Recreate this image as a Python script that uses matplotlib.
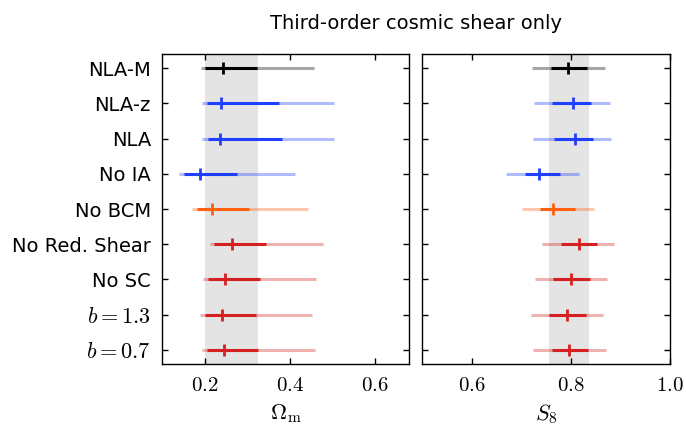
import numpy as np
import matplotlib.pyplot as plt

plt.rcParams['mathtext.fontset'] = 'cm'
plt.rcParams['font.family'] = ['DejaVu Sans']

labels = ['NLA-M', 'NLA-z', 'NLA', 'No IA', 'No BCM', 'No Red. Shear', 'No SC',
          r'$b=1.3$', r'$b=0.7$']
colors = ['black', '#1f40ff', '#1f40ff', '#1f40ff', '#ff6010',
          '#d42020', '#d42020', '#d42020', '#d42020']

# Omega_m: best fit, 1-sigma (lo, hi), 2-sigma (lo, hi)
om_best = [0.244, 0.239, 0.235, 0.188, 0.217, 0.264, 0.248, 0.241, 0.245]
om_lo1 = [0.202, 0.206, 0.208, 0.152, 0.182, 0.223, 0.208, 0.200, 0.205]
om_hi1 = [0.324, 0.375, 0.382, 0.276, 0.305, 0.344, 0.329, 0.321, 0.326]
om_lo2 = [0.191, 0.193, 0.195, 0.140, 0.170, 0.212, 0.196, 0.188, 0.194]
om_hi2 = [0.457, 0.503, 0.505, 0.413, 0.443, 0.477, 0.461, 0.453, 0.459]

# S8
s8_best = [0.795, 0.804, 0.809, 0.735, 0.764, 0.816, 0.801, 0.793, 0.797]
s8_lo1 = [0.761, 0.762, 0.766, 0.707, 0.737, 0.780, 0.765, 0.757, 0.762]
s8_hi1 = [0.833, 0.840, 0.845, 0.779, 0.809, 0.853, 0.838, 0.830, 0.835]
s8_lo2 = [0.722, 0.726, 0.724, 0.670, 0.701, 0.742, 0.727, 0.719, 0.724]
s8_hi2 = [0.868, 0.878, 0.881, 0.816, 0.847, 0.888, 0.873, 0.865, 0.870]

om_band = (0.200, 0.326)
s8_band = (0.757, 0.836)

fig = plt.figure(figsize=(6.86, 4.26), dpi=100)
ax1 = fig.add_axes([0.2362, 0.1455, 0.3600, 0.7277])
ax2 = fig.add_axes([0.6152, 0.1455, 0.3615, 0.7277])

n = len(labels)
ypos = np.arange(n)[::-1]

def draw(ax, best, lo1, hi1, lo2, hi2, band):
    ax.axvspan(band[0], band[1], color='#e4e4e4', lw=0, zorder=0)
    for i in range(n):
        c = colors[i]
        ax.plot([lo2[i], hi2[i]], [ypos[i], ypos[i]], color=c, alpha=0.35,
                lw=2.2, solid_capstyle='butt', zorder=2)
        ax.plot([lo1[i], hi1[i]], [ypos[i], ypos[i]], color=c,
                lw=2.2, solid_capstyle='butt', zorder=3)
        ax.plot(best[i], ypos[i], marker='|', color=c, markersize=9,
                mew=2.0, zorder=4)
    ax.set_ylim(-0.4, n - 0.6)
    ax.set_yticks(ypos)
    ax.tick_params(direction='in', top=True, right=True, length=4,
                   width=1, labelsize=15, pad=8)
    for s in ax.spines.values():
        s.set_linewidth(1)

draw(ax1, om_best, om_lo1, om_hi1, om_lo2, om_hi2, om_band)
draw(ax2, s8_best, s8_lo1, s8_hi1, s8_lo2, s8_hi2, s8_band)

ax1.set_xlim(0.1, 0.68)
ax1.set_xticks([0.2, 0.4, 0.6])
ax1.set_xticklabels([r'$0.2$', r'$0.4$', r'$0.6$'])
ax1.set_yticklabels(labels)
for t in ax1.get_yticklabels():
    t.set_fontsize(16 if t.get_text().startswith('$') else 14)
ax1.set_xlabel(r'$\Omega_\mathrm{m}$', fontsize=16, labelpad=5)

ax2.set_xlim(0.5, 1.0)
ax2.set_xticks([0.6, 0.8, 1.0])
ax2.set_xticklabels([r'$0.6$', r'$0.8$', r'$1.0$'])
ax2.set_yticklabels([])
ax2.set_xlabel(r'$S_8$', fontsize=16, labelpad=5)

fig.text(0.606, 0.945, 'Third-order cosmic shear only', ha='center',
         va='center', fontsize=14)

fig.savefig('out.png', dpi=100)
